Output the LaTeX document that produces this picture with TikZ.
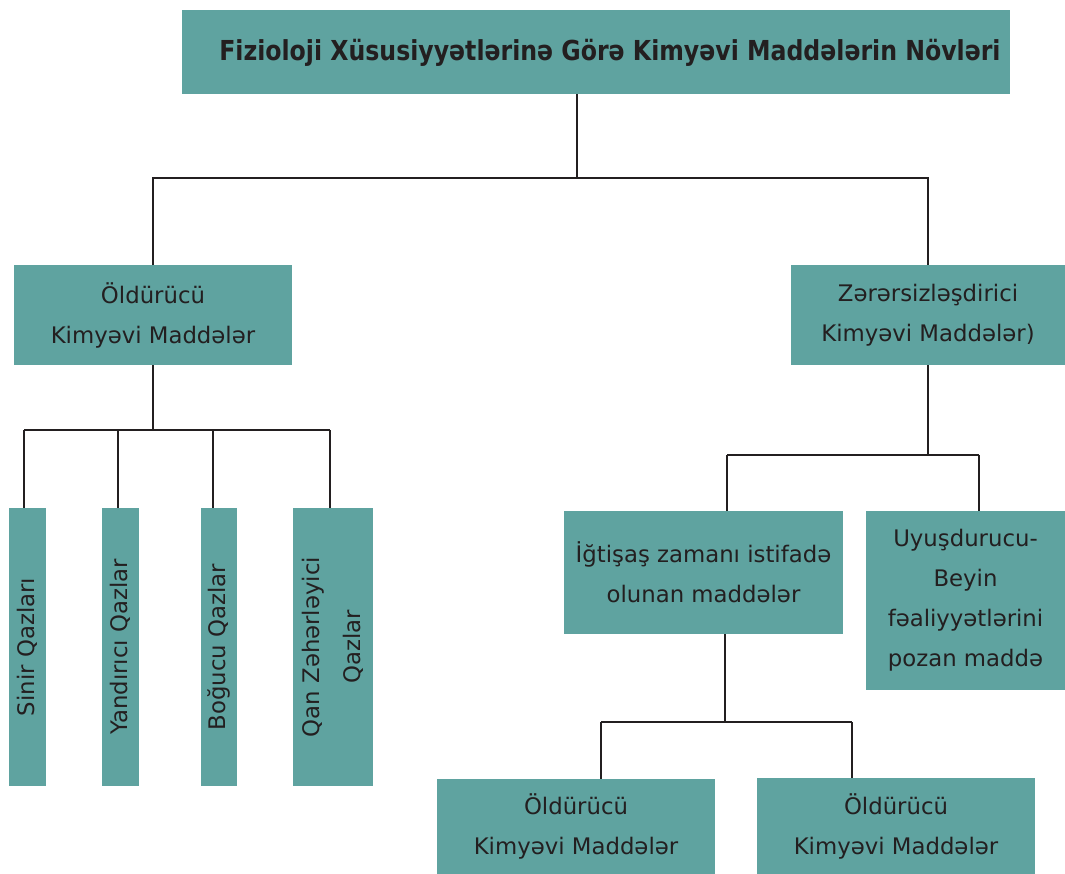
\documentclass[tikz,border=0pt]{standalone}
\usepackage{fontspec}
\setmainfont{DejaVu Sans}
\newfontfamily\titlefont[FakeStretch=0.955]{DejaVu Sans Condensed}
\definecolor{teal}{HTML}{5FA3A0}
\definecolor{ink}{HTML}{231F20}
\begin{document}
\begin{tikzpicture}[x=1pt,y=-1pt,
  box/.style={fill=teal,draw=none,inner sep=0pt,align=center,text=ink,
    font=\fontsize{22.8}{40}\selectfont},
  vtext/.style={rotate=90,align=center,text=ink,inner sep=0pt,
    font=\fontsize{22.8}{41}\selectfont},
  conn/.style={draw=ink,line width=2.2pt}]
\useasboundingbox (0,0) rectangle (1065,874);
% boxes
\node[box,minimum width=828pt,minimum height=84pt] (title) at (596,52) {};
\node[text=ink,inner sep=0pt,font=\titlefont\bfseries\fontsize{27.5}{30}\selectfont] (titletext) at (610,53) {Fizioloji Xüsusiyyətlərinə Görə Kimyəvi Maddələrin Növləri};
\node[box,minimum width=278pt,minimum height=100pt] (left) at (153,315) {Öldürücü\\Kimyəvi Maddələr};
\node[box,minimum width=274pt,minimum height=100pt] (right) at (928,315) {Zərərsizləşdirici\\Kimyəvi Maddələr)};
\node[box,minimum width=37pt,minimum height=278pt] (sinir) at (27.5,647) {};
\node[box,minimum width=37pt,minimum height=278pt] (yand) at (120.5,647) {};
\node[box,minimum width=36pt,minimum height=278pt] (bog) at (219,647) {};
\node[box,minimum width=80pt,minimum height=278pt] (qan) at (333,647) {};
\node[vtext] (sinirt) at (sinir.center) {Sinir Qazları};
\node[vtext] (yandt) at (yand.center) {Yandırıcı Qazlar};
\node[vtext] (bogt) at (bog.center) {Boğucu Qazlar};
\node[vtext] (qant) at (qan.center) {Qan Zəhərləyici\\Qazlar};
\node[box,minimum width=279pt,minimum height=123pt] (igt) at (703.5,572.5) {İğtişaş zamanı istifadə\\olunan maddələr};
\node[box,minimum width=199pt,minimum height=179pt] (uyu) at (965.5,600.5) {Uyuşdurucu-\\Beyin\\fəaliyyətlərini\\pozan maddə};
\node[box,minimum width=278pt,minimum height=95pt] (b1) at (576,826.5) {Öldürücü\\Kimyəvi Maddələr};
\node[box,minimum width=278pt,minimum height=96pt] (b2) at (896,826) {Öldürücü\\Kimyəvi Maddələr};
% junctions
\coordinate (j1) at (577,178);
\coordinate (j2) at (153,430);
\coordinate (j3) at (928,455);
\coordinate (j4) at (725,722);
\coordinate (s1) at (24,430);
\coordinate (s2) at (118,430);
\coordinate (s3) at (213,430);
\coordinate (s4) at (330,430);
\coordinate (r1) at (727,455);
\coordinate (r2) at (979,455);
\coordinate (t1) at (601,722);
\coordinate (t2) at (852,722);
% connectors
\draw[conn] (j1 |- title.south) -- (j1);
\draw[conn,line join=miter] (left.north) |- (j1) -| (right.north);
\draw[conn] (left.south) -- (j2);
\draw[conn] (s1) -- (s4);
\draw[conn] (s1) -- (s1 |- sinir.north);
\draw[conn] (s2) -- (s2 |- yand.north);
\draw[conn] (s3) -- (s3 |- bog.north);
\draw[conn] (s4) -- (s4 |- qan.north);
\draw[conn] (j3 |- right.south) -- (j3);
\draw[conn] (r1) -- (r2);
\draw[conn] (r1) -- (r1 |- igt.north);
\draw[conn] (r2) -- (r2 |- uyu.north);
\draw[conn] (j4 |- igt.south) -- (j4);
\draw[conn] (t1) -- (t2);
\draw[conn] (t1) -- (t1 |- b1.north);
\draw[conn] (t2) -- (t2 |- b2.north);
\end{tikzpicture}
\end{document}
